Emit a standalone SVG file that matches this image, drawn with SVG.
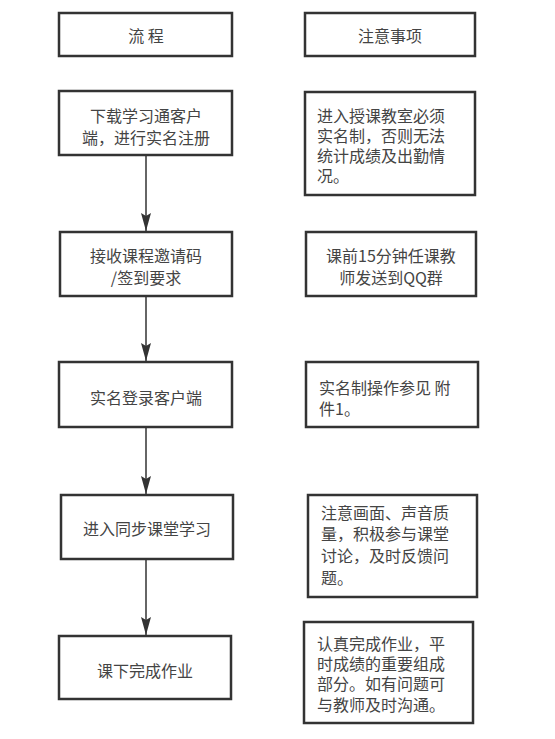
<svg xmlns="http://www.w3.org/2000/svg" width="555" height="739" viewBox="0 0 555 739">
<style>
.box{fill:#fff;stroke:#333;stroke-width:2.5}
.t{font-family:"Noto Sans CJK SC","Noto Sans",sans-serif;font-size:16px;fill:#444;dominant-baseline:central}
.c{text-anchor:middle}
.edge{stroke:#333;stroke-width:1.5;fill:none;marker-end:url(#ah)}
</style>
<defs>
<marker id="ah" markerWidth="18" markerHeight="10" refX="18" refY="5" orient="auto" markerUnits="userSpaceOnUse" viewBox="0 0 18 10">
<path d="M0,0 L18,5 L0,10 L3,5 Z" fill="#333"/>
</marker>
</defs>
<rect width="555" height="739" fill="#fff"/>
<g id="connectors">
<line class="edge" x1="146" y1="156" x2="146" y2="231"/>
<line class="edge" x1="146" y1="297" x2="146" y2="361"/>
<line class="edge" x1="146" y1="428" x2="146" y2="494"/>
<line class="edge" x1="146" y1="560" x2="146" y2="635"/>
</g>
<g id="flow-header"><rect class="box" x="59" y="13" width="173" height="43"/><text class="t c" x="146" y="35">流 程</text></g>
<g id="step1"><rect class="box" x="59" y="91" width="173" height="64"/><text class="t c" x="146" y="115">下载学习通客户</text><text class="t c" x="146" y="137">端，进行实名注册</text></g>
<g id="step2"><rect class="box" x="60" y="232" width="172" height="64"/><text class="t c" x="146" y="255">接收课程邀请码</text><text class="t c" x="146" y="277">/签到要求</text></g>
<g id="step3"><rect class="box" x="59" y="362" width="173" height="65"/><text class="t c" x="146" y="397">实名登录客户端</text></g>
<g id="step4"><rect class="box" x="61" y="495" width="172" height="64"/><text class="t c" x="147" y="528">进入同步课堂学习</text></g>
<g id="step5"><rect class="box" x="59" y="636" width="172" height="63"/><text class="t c" x="145" y="670">课下完成作业</text></g>
<g id="note-header"><rect class="box" x="305" y="13" width="170" height="43"/><text class="t c" x="390" y="35">注意事项</text></g>
<g id="note1"><rect class="box" x="305" y="92" width="170" height="103"/><text class="t" x="317" y="115">进入授课教室必须</text><text class="t" x="317" y="135">实名制，否则无法</text><text class="t" x="317" y="155">统计成绩及出勤情</text><text class="t" x="317" y="175">况。</text></g>
<g id="note2"><rect class="box" x="306" y="232" width="170" height="64"/><text class="t c" x="391" y="255">课前15分钟任课教</text><text class="t c" x="391" y="277">师发送到QQ群</text></g>
<g id="note3"><rect class="box" x="306" y="362" width="172" height="65"/><text class="t" x="319" y="387">实名制操作参见 附</text><text class="t" x="319" y="408">件1。</text></g>
<g id="note4"><rect class="box" x="308" y="495" width="169" height="102"/><text class="t" x="321" y="512">注意画面、声音质</text><text class="t" x="321" y="533">量，积极参与课堂</text><text class="t" x="321" y="555">讨论，及时反馈问</text><text class="t" x="321" y="577">题。</text></g>
<g id="note5"><rect class="box" x="304" y="622" width="169" height="101"/><text class="t" x="317" y="643">认真完成作业，平</text><text class="t" x="317" y="663">时成绩的重要组成</text><text class="t" x="317" y="683">部分。如有问题可</text><text class="t" x="317" y="704">与教师及时沟通。</text></g>
</svg>
